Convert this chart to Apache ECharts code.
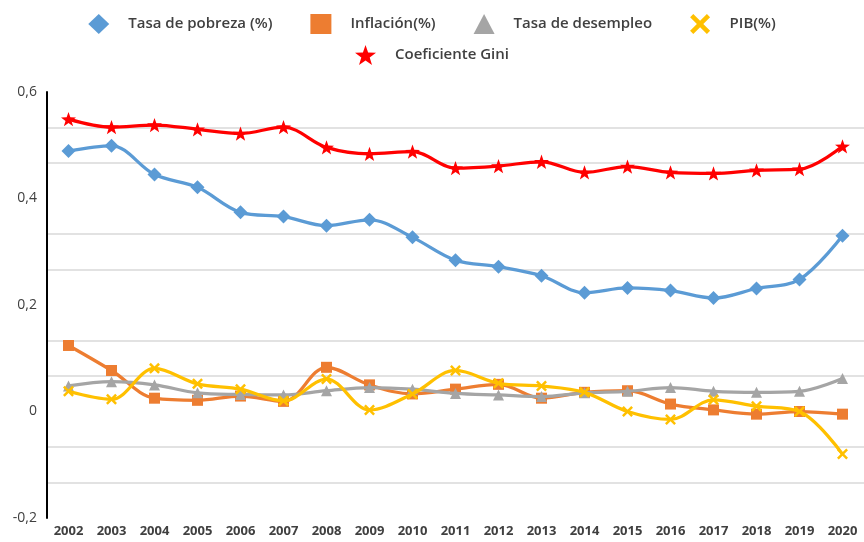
<!DOCTYPE html>
<html>
<head>
<meta charset="utf-8">
<script src="https://cdn.jsdelivr.net/npm/echarts@6/dist/echarts.min.js"></script>
<style>
html,body{margin:0;padding:0;background:#fff;}
#chart{width:864px;height:542px;}
</style>
</head>
<body>
<div id="chart"></div>
<script>
const years = ['2002','2003','2004','2005','2006','2007','2008','2009','2010','2011','2012','2013','2014','2015','2016','2017','2018','2019','2020'];
const pobreza = [0.489,0.499,0.445,0.421,0.374,0.366,0.349,0.360,0.327,0.284,0.272,0.255,0.223,0.232,0.227,0.213,0.231,0.248,0.330];
const inflacion = [0.124,0.077,0.025,0.021,0.029,0.019,0.083,0.050,0.033,0.042,0.051,0.025,0.036,0.039,0.014,0.003,-0.005,0.000,-0.005];
const desempleo = [0.048,0.056,0.050,0.035,0.032,0.031,0.039,0.045,0.042,0.034,0.031,0.028,0.035,0.038,0.045,0.038,0.036,0.038,0.062];
const pib = [0.038,0.023,0.081,0.052,0.042,0.020,0.061,0.003,0.033,0.077,0.053,0.048,0.036,0.000,-0.015,0.022,0.010,0.000,-0.080];
const gini = [0.549,0.534,0.538,0.530,0.522,0.534,0.496,0.484,0.488,0.457,0.461,0.469,0.449,0.460,0.449,0.447,0.453,0.455,0.498];
const yTicks = ['0,6','0,4','0,2','0','-0,2'];

const STAR = 'path://M10,0 L12.351,6.764 L19.511,6.91 L13.804,11.236 L15.878,18.09 L10,14 L4.122,18.09 L6.196,11.236 L0.489,6.91 L7.649,6.764 Z';
const XMARK = 'path://M0,1.6 L1.6,0 L5,3.4 L8.4,0 L10,1.6 L6.6,5 L10,8.4 L8.4,10 L5,6.6 L1.6,10 L0,8.4 L3.4,5 Z';

const names = ['Tasa de pobreza (%)','Inflación(%)','Tasa de desempleo','PIB(%)','Coeficiente Gini'];
const colors = ['#5B9BD5','#ED7D31','#A5A5A5','#FFC000','#FF0000'];
const symbols = ['diamond','rect','triangle',XMARK,STAR];
const sizes = [14,11,11,11,15];
const values = [pobreza,inflacion,desempleo,pib,gini];

const chart = echarts.init(document.getElementById('chart'));
const gridLineSlots = Array.from({length:13},(_, i)=>String(i));

const legendText = {fontFamily:'Open Sans', fontSize:15, fontWeight:600, color:'#404040', padding:[0,0,0,14]};
chart.setOption({
  backgroundColor:'#fff',
  animation:false,
  legend:[
    {top:9, left:'center', itemWidth:21, itemHeight:20, itemGap:38, textStyle:legendText,
     data:[0,1,2,3].map(i=>({name:names[i], icon:symbols[i]}))},
    {top:40, left:'center', itemWidth:21, itemHeight:20, itemGap:38, textStyle:legendText,
     data:[{name:names[4], icon:symbols[4]}]}
  ],
  grid:{left:47, right:0, top:92, bottom:24, containLabel:false},
  xAxis:{
    type:'category', data:years, boundaryGap:true,
    axisLine:{show:false}, axisTick:{show:false}, splitLine:{show:false},
    axisLabel:{interval:0, margin:7, fontFamily:'Open Sans', fontSize:13, fontWeight:'bold', color:'#404040'}
  },
  yAxis:[
    {type:'value', min:-0.2, max:0.6, interval:0.2, z:3,
     axisLine:{show:true, lineStyle:{color:'#000', width:2}},
     axisTick:{show:false}, splitLine:{show:false},
     axisLabel:{margin:10, fontFamily:'Open Sans', fontSize:14, color:'#404040',
       formatter:v=>{const r=Math.round(v*10)/10; return String(r).replace('.',',');}}},
    {type:'category', data:gridLineSlots, boundaryGap:false, position:'left', z:1,
     axisLine:{show:false}, axisTick:{show:false}, axisLabel:{show:false},
     splitLine:{show:true, interval:(idx)=>idx%3!==0, lineStyle:{color:'#D9D9D9', width:1.5}}}
  ],
  series: values.map((d,i)=>({
    name:names[i], type:'line', data:d, yAxisIndex:0,
    smooth:0.35,
    symbol:symbols[i], symbolSize:sizes[i], symbolKeepAspect:true, showSymbol:true,
    lineStyle:{color:colors[i], width:3.25},
    itemStyle:{color:colors[i]},
    z:2+i
  }))
});
</script>
</body>
</html>
